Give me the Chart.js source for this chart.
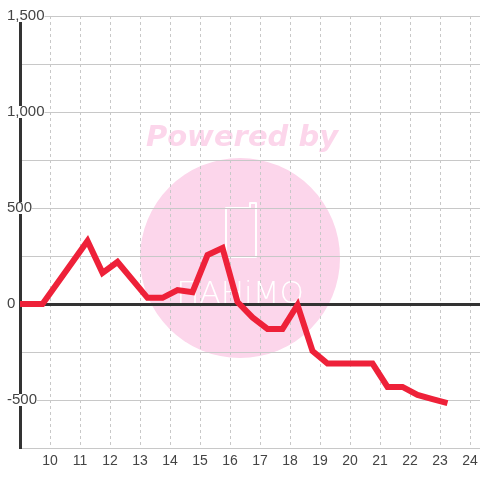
<!DOCTYPE html>
<html>
<head>
<meta charset="utf-8">
<script src="https://cdn.jsdelivr.net/npm/chart.js@4"></script>
<style>
  body { margin: 0; background: #fff; }
  #wrap { width: 480px; height: 480px; }
</style>
</head>
<body>
<div id="wrap"><canvas id="chart"></canvas></div>
<script>
// Corner points of the line (hour of day, value)
const hours  = [8.75, 9.75, 11.25, 11.75, 12.25, 13.25, 13.75, 14.25, 14.75, 15.25, 15.75, 16.25, 16.75, 17.25, 17.75, 18.25, 18.75, 19.25, 20.75, 21.25, 21.75, 22.25, 22.75, 23.25];
const values = [0, 0, 328, 162, 219, 32, 32, 73, 62, 255, 292, 10, -70, -130, -130, -5, -245, -310, -310, -432, -432, -474, -495, -516];
const xTickLabels = [10, 11, 12, 13, 14, 15, 16, 17, 18, 19, 20, 21, 22, 23, 24];
const yTickLabels = [-500, 0, 500, 1000, 1500];

const pink = '#fcd6eb';

// Watermark behind the grid
const watermark = {
    id: 'watermark',
    beforeDraw(chart) {
        const c = chart.ctx;
        c.save();
        c.fillStyle = pink;
        c.beginPath();
        c.arc(240, 258, 100, 0, Math.PI * 2);
        c.fill();

        c.font = 'bold oblique 29px "DejaVu Sans"';
        c.textAlign = 'center';
        c.textBaseline = 'alphabetic';
        c.fillText('Powered by', 242, 146);

        // phone outline
        c.strokeStyle = '#fff';
        c.lineWidth = 2;
        c.lineJoin = 'round';
        c.beginPath();
        c.moveTo(226, 208);
        c.lineTo(250, 208);
        c.lineTo(250, 203);
        c.lineTo(256, 203);
        c.lineTo(256, 257);
        c.lineTo(226, 257);
        c.closePath();
        c.stroke();

        c.fillStyle = '#fff';
        c.font = '200 31px "DejaVu Sans"';
        c.fillText('\u041FAHiMO', 240, 303);
        c.restore();
    }
};

new Chart(document.getElementById('chart'), {
    type: 'line',
    data: {
        datasets: [{
            data: hours.map((h, i) => ({ x: h, y: values[i] })),
            borderColor: '#ee2139',
            borderWidth: 6,
            pointRadius: 0,
            tension: 0,
            fill: false
        }]
    },
    options: {
        responsive: true,
        maintainAspectRatio: false,
        animation: false,
        layout: { padding: { top: 16, right: 0, left: 0, bottom: 0 } },
        plugins: {
            legend: { display: false },
            tooltip: { enabled: false }
        },
        scales: {
            x: {
                type: 'linear',
                min: 9,
                max: 24.333,
                afterFit: s => { s.height = 32; s.paddingLeft = 0; s.paddingRight = 0; },
                border: { display: false, dash: [3, 3] },
                grid: { color: '#c8c8c8', drawTicks: false },
                ticks: {
                    stepSize: 1,
                    includeBounds: false,
                    autoSkip: false,
                    maxRotation: 0,
                    padding: 5,
                    color: '#444',
                    font: { family: '"Liberation Sans", Arial', size: 14 },
                    callback: v => xTickLabels.includes(v) ? String(v) : ''
                }
            },
            y: {
                min: -750,
                max: 1500,
                afterFit: s => { s.width = 20; },
                border: { color: '#333', width: 3 },
                grid: {
                    color: ctx => ctx.tick.value === 0 ? '#333' : '#c8c8c8',
                    lineWidth: ctx => ctx.tick.value === 0 ? 3 : 1,
                    drawTicks: false
                },
                ticks: {
                    stepSize: 250,
                    mirror: true,
                    crossAlign: 'near',
                    padding: -13,
                    color: '#444',
                    font: { family: '"Liberation Sans", Arial', size: 15, lineHeight: 0.8 },
                    showLabelBackdrop: true,
                    backdropColor: '#fff',
                    backdropPadding: 0,
                    callback: v => yTickLabels.includes(v) ? v.toLocaleString('en-US') : ''
                }
            }
        }
    },
    plugins: [watermark]
});
</script>
</body>
</html>
